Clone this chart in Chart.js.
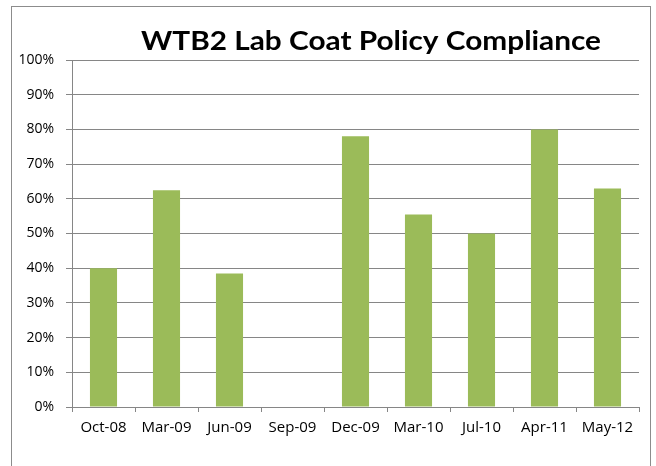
<!DOCTYPE html>
<html>
<head>
<meta charset="utf-8">
<script src="https://cdn.jsdelivr.net/npm/chart.js@4"></script>
<style>
  html, body { margin: 0; padding: 0; background: #fff; }
  #wrap { position: relative; width: 656px; height: 466px; overflow: hidden; }
  #frame { position: absolute; left: 11px; top: 6px; width: 640px; height: 480px; border: 1px solid #8c8c8c; box-sizing: border-box; }
  canvas { position: absolute; left: 0; top: 0; }
</style>
</head>
<body>
<div id="wrap">
  <div id="frame"></div>
  <canvas id="chart" width="656" height="466"></canvas>
</div>
<script>
// ---- data ----
const titleText = 'WTB2 Lab Coat Policy Compliance';
const categories = ['Oct-08', 'Mar-09', 'Jun-09', 'Sep-09', 'Dec-09', 'Mar-10', 'Jul-10', 'Apr-11', 'May-12'];
const compliance = [40, 62.5, 38.5, 0, 78, 55.5, 50, 80, 63];
const yTicks = [0, 10, 20, 30, 40, 50, 60, 70, 80, 90, 100];

const FONT = "Lato, 'Open Sans', sans-serif";
const TICK_FONT = "'Open Sans', Lato, sans-serif";
const GRID = '#868686';

// title: the source image is a bit stretched sideways, so widen the text a little
const titlePlugin = {
  id: 'xlTitle',
  afterDraw(chart) {
    const ctx = chart.ctx;
    ctx.save();
    ctx.font = 'bold 27px ' + FONT;
    const w = ctx.measureText(titleText).width;
    const sx = 460 / w;
    ctx.fillStyle = '#000';
    ctx.textAlign = 'center';
    ctx.textBaseline = 'alphabetic';
    ctx.translate(371, 50);
    ctx.scale(sx, 1);
    ctx.fillText(titleText, 0, 0);
    ctx.restore();
  }
};

new Chart(document.getElementById('chart'), {
  type: 'bar',
  data: {
    labels: categories,
    datasets: [{
      data: compliance,
      backgroundColor: '#9bbb59',
      borderWidth: 0,
      barPercentage: 0.43,
      categoryPercentage: 1
    }]
  },
  options: {
    responsive: false,
    animation: false,
    layout: { padding: { top: 60, right: 17, left: 0, bottom: 0 } },
    plugins: {
      legend: { display: false },
      tooltip: { enabled: false }
    },
    scales: {
      x: {
        afterFit: s => { s.height = 59; },
        grid: { drawOnChartArea: false, color: GRID, tickLength: 5, offset: true },
        border: { color: GRID },
        ticks: { color: '#000', font: { family: TICK_FONT, size: 15 }, padding: 7, maxRotation: 0 }
      },
      y: {
        min: 0, max: 100,
        afterFit: s => { s.width = 72; },
        afterBuildTicks: s => { s.ticks = yTicks.map(v => ({ value: v })); },
        grid: { color: GRID, tickLength: 6 },
        border: { color: GRID },
        ticks: {
          color: '#000',
          font: { family: TICK_FONT, size: 14 },
          padding: 12,
          callback: v => v + '%'
        }
      }
    }
  },
  plugins: [titlePlugin]
});
</script>
</body>
</html>
